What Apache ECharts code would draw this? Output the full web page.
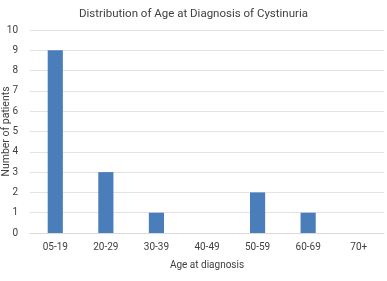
<!DOCTYPE html>
<html lang="en">
<head>
  <meta charset="UTF-8">
  <title>Distribution of Age at Diagnosis of Cystinuria</title>
  <style>
    html, body { margin: 0; padding: 0; background: #fff; }
  </style>
</head>
<body>
  <div id="main" style="width:387px;height:281px"></div>

  <script src="https://cdn.jsdelivr.net/npm/echarts@6/dist/echarts.min.js"></script>

  <script>
    // age groups and patient counts
    var ageGroups = ['05-19', '20-29', '30-39', '40-49', '50-59', '60-69', '70+']
    var patients = [9, 3, 1, 0, 2, 1, 0]

    var font = 'Roboto, "Liberation Sans", sans-serif'

    var myChart = echarts.init(document.getElementById('main'))

    var options = {
      animation: false,
      title: {
        text: 'Distribution of Age at Diagnosis of Cystinuria',
        left: 'center',
        top: 3,
        textStyle: { fontFamily: font, fontSize: 11.5, fontWeight: 'normal', color: '#404040' }
      },
      grid: { left: 30, right: 3, top: 30, bottom: 48, outerBoundsMode: 'none' },
      xAxis: {
        type: 'category',
        data: ageGroups,
        name: 'Age at diagnosis',
        nameLocation: 'middle',
        nameGap: 27,
        nameTextStyle: { fontFamily: font, fontSize: 10, color: '#404040' },
        axisLine: { lineStyle: { color: '#d9d9d9' } },
        axisTick: { show: false },
        axisLabel: { fontFamily: font, fontSize: 10, color: '#404040', margin: 9 }
      },
      yAxis: {
        type: 'value',
        min: 0,
        max: 10,
        interval: 1,
        name: 'Number of patients',
        nameLocation: 'middle',
        nameGap: 18,
        nameMoveOverlap: false,
        nameTextStyle: { fontFamily: font, fontSize: 10.5, color: '#404040' },
        axisLabel: { fontFamily: font, fontSize: 10, color: '#404040', margin: 12 },
        splitLine: { lineStyle: { color: '#e3e3e3' } }
      },
      series: [
        {
          type: 'bar',
          data: patients,
          barWidth: '30%',
          itemStyle: { color: '#4a7ebb' }
        }
      ]
    }

    myChart.setOption(options)
  </script>
</body>
</html>
